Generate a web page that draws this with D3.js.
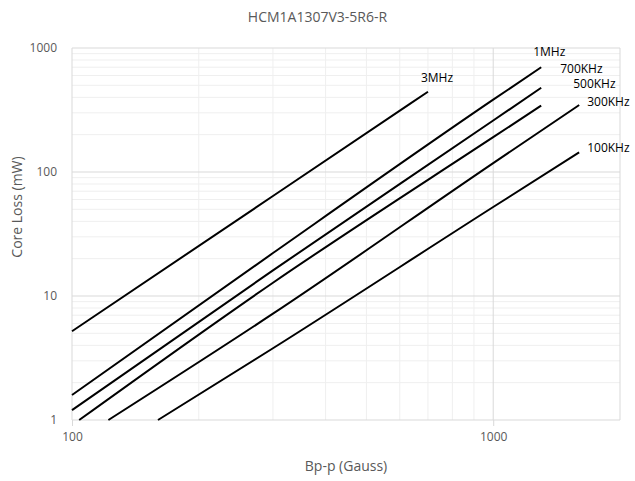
<!DOCTYPE html>
<html>
<head>
<meta charset="utf-8">
<script src="https://cdn.jsdelivr.net/npm/d3@7"></script>
<style>
  body { margin: 0; background: #fff; }
  text { font-family: "Open Sans", sans-serif; }
</style>
</head>
<body>
<div id="chart"></div>
<script>
// chart size and plot margins
const width = 635,
  height = 481,
  margins = { top: 48, bottom: 61, left: 72, right: 15 };

// data (Bp-p in Gauss, core loss in mW)
const seriesNames = ["3MHz", "1MHz", "700KHz", "500KHz", "300KHz", "100KHz"];
const flux_3MHz = [100, 300, 700];
const loss_3MHz = [5.2, 64, 444];
const flux_1MHz = [100, 300, 1000, 1300];
const loss_1MHz = [1.59, 22.2, 383, 699];
const flux_700KHz = [100, 300, 1000, 1300];
const loss_700KHz = [1.2, 16.1, 260, 478];
const flux_500KHz = [104, 300, 1000, 1300];
const loss_500KHz = [1, 12.8, 191, 343];
const flux_300KHz = [122, 300, 1000, 1600];
const loss_300KHz = [1, 7.2, 118, 347];
const flux_100KHz = [160, 300, 1000, 1600];
const loss_100KHz = [1, 3.79, 52.2, 144];

const xTicks = [100, 1000];
const yTicks = [1, 10, 100, 1000];

// label offsets from the end of each curve (pixels)
const labelOffsets = {
  "3MHz": [-7, -14],
  "1MHz": [-8, -15],
  "700KHz": [19, -19],
  "500KHz": [32, -22],
  "300KHz": [8, -3],
  "100KHz": [8, -5]
};

const fluxes = [flux_3MHz, flux_1MHz, flux_700KHz, flux_500KHz, flux_300KHz, flux_100KHz];
const losses = [loss_3MHz, loss_1MHz, loss_700KHz, loss_500KHz, loss_300KHz, loss_100KHz];

const series = seriesNames.map((name, i) => ({
  name: name,
  points: fluxes[i].map((b, j) => ({ b: b, p: losses[i][j] }))
}));

const svg = d3.select("#chart")
  .append("svg")
  .attr("width", width)
  .attr("height", height);

const xScale = d3.scaleLog()
  .domain([100, 2000])
  .range([margins.left, width - margins.right]);

const yScale = d3.scaleLog()
  .domain([1, 1000])
  .range([height - margins.bottom, margins.top]);

// minor gridlines
const xMinor = d3.range(2, 10).map(d => d * 100);
const yMinor = [];
[1, 10, 100].forEach(dec => d3.range(2, 10).forEach(k => yMinor.push(dec * k)));

svg.append("g")
  .selectAll("line")
  .data(yMinor)
  .join("line")
  .attr("x1", margins.left)
  .attr("x2", width - margins.right)
  .attr("y1", d => yScale(d))
  .attr("y2", d => yScale(d))
  .attr("stroke", "#efefef");

svg.append("g")
  .selectAll("line")
  .data(xMinor)
  .join("line")
  .attr("x1", d => xScale(d))
  .attr("x2", d => xScale(d))
  .attr("y1", margins.top)
  .attr("y2", height - margins.bottom)
  .attr("stroke", "#efefef");

// major gridlines
svg.append("g")
  .selectAll("line")
  .data(yTicks)
  .join("line")
  .attr("x1", margins.left)
  .attr("x2", width - margins.right)
  .attr("y1", d => yScale(d))
  .attr("y2", d => yScale(d))
  .attr("stroke", "#d9d9d9");

svg.append("g")
  .selectAll("line")
  .data(xTicks.concat([2000]))
  .join("line")
  .attr("x1", d => xScale(d))
  .attr("x2", d => xScale(d))
  .attr("y1", margins.top)
  .attr("y2", height - margins.bottom)
  .attr("stroke", "#d9d9d9");

// axes (labels only, Excel style)
svg.append("g")
  .attr("transform", `translate(0, ${height - margins.bottom})`)
  .call(d3.axisBottom(xScale).tickValues(xTicks).tickFormat(d3.format("d")).tickSize(6).tickPadding(6))
  .call(g => g.select(".domain").remove())
  .call(g => g.selectAll(".tick line").attr("stroke", "#d9d9d9"))
  .call(g => g.selectAll(".tick text")
    .style("font-family", "Open Sans")
    .style("font-size", "12px")
    .attr("fill", "#595959"));

svg.append("g")
  .attr("transform", `translate(${margins.left}, 0)`)
  .call(d3.axisLeft(yScale).tickValues(yTicks).tickFormat(d3.format("d")).tickSize(0).tickPadding(15))
  .call(g => g.select(".domain").remove())
  .call(g => g.selectAll(".tick text")
    .style("font-family", "Open Sans")
    .style("font-size", "12px")
    .attr("fill", "#595959"));

// curves
const line = d3.line()
  .x(d => xScale(d.b))
  .y(d => yScale(d.p))
  .curve(d3.curveMonotoneX);

svg.append("g")
  .selectAll("path")
  .data(series)
  .join("path")
  .attr("d", d => line(d.points))
  .attr("fill", "none")
  .attr("stroke", "#000")
  .attr("stroke-width", 2);

// curve labels
svg.append("g")
  .selectAll("text")
  .data(series)
  .join("text")
  .attr("x", d => {
    const last = d.points[d.points.length - 1];
    return xScale(last.b) + labelOffsets[d.name][0];
  })
  .attr("y", d => {
    const last = d.points[d.points.length - 1];
    return yScale(last.p) + labelOffsets[d.name][1];
  })
  .attr("dy", "0.35em")
  .style("font-size", "12px")
  .attr("fill", "#000")
  .text(d => d.name);

// title and axis titles
svg.append("text")
  .attr("x", width / 2)
  .attr("y", 22)
  .attr("text-anchor", "middle")
  .style("font-size", "14px")
  .attr("fill", "#595959")
  .text("HCM1A1307V3-5R6-R");

svg.append("text")
  .attr("x", (margins.left + width - margins.right) / 2)
  .attr("y", 471)
  .attr("text-anchor", "middle")
  .style("font-size", "14px")
  .attr("fill", "#595959")
  .text("Bp-p (Gauss)");

svg.append("text")
  .attr("transform", `translate(22, ${(margins.top + height - margins.bottom) / 2 - 27})rotate(-90)`)
  .attr("text-anchor", "middle")
  .style("font-size", "14px")
  .attr("fill", "#595959")
  .text("Core Loss (mW)");
</script>
</body>
</html>
